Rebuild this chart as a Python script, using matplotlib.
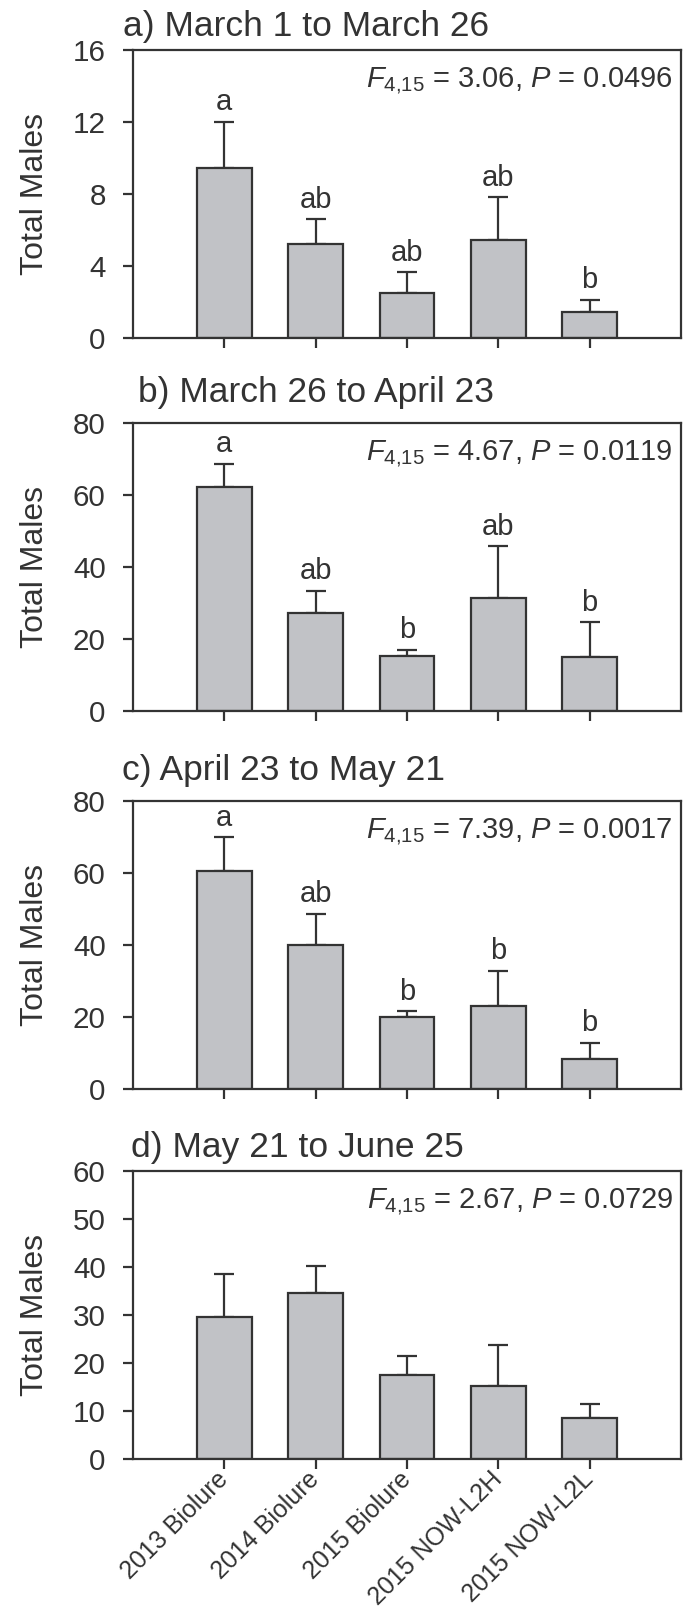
import numpy as np
import matplotlib
matplotlib.use('Agg')
import matplotlib.pyplot as plt

plt.rcParams['font.family'] = ['Liberation Sans', 'DejaVu Sans']
plt.rcParams['mathtext.fontset'] = 'custom'
plt.rcParams['mathtext.rm'] = 'Liberation Sans'
plt.rcParams['mathtext.it'] = 'Liberation Sans:italic'

# treatments
groups = ['2013 Biolure', '2014 Biolure', '2015 Biolure', '2015 NOW-L2H', '2015 NOW-L2L']

# panel titles
titles = ['a) March 1 to March 26', 'b) March 26 to April 23',
          'c) April 23 to May 21', 'd) May 21 to June 25']

# mean total males per panel
means_a = [9.45, 5.22, 2.50, 5.46, 1.45]
means_b = [62.2, 27.3, 15.2, 31.5, 15.0]
means_c = [60.6, 40.0, 19.9, 23.1, 8.3]
means_d = [29.5, 34.5, 17.5, 15.3, 8.5]

# standard errors (upper bar only)
se_a = [2.55, 1.37, 1.14, 2.35, 0.68]
se_b = [6.5, 6.1, 1.8, 14.3, 9.7]
se_c = [9.3, 8.75, 1.65, 9.7, 4.5]
se_d = [9.1, 5.7, 4.0, 8.5, 3.0]

# mean separation letters
letters_a = ['a', 'ab', 'ab', 'ab', 'b']
letters_b = ['a', 'ab', 'b', 'ab', 'b']
letters_c = ['a', 'ab', 'b', 'b', 'b']
letters_d = ['', '', '', '', '']

stats = [r'$\mathit{F}_{\mathrm{4{,}15}}$ = 3.06, $\mathit{P}$ = 0.0496',
         r'$\mathit{F}_{\mathrm{4{,}15}}$ = 4.67, $\mathit{P}$ = 0.0119',
         r'$\mathit{F}_{\mathrm{4{,}15}}$ = 7.39, $\mathit{P}$ = 0.0017',
         r'$\mathit{F}_{\mathrm{4{,}15}}$ = 2.67, $\mathit{P}$ = 0.0729']

ymax = [16, 80, 80, 60]
ystep = [4, 20, 20, 10]

means = [means_a, means_b, means_c, means_d]
ses = [se_a, se_b, se_c, se_d]
letters = [letters_a, letters_b, letters_c, letters_d]

ink = '#333333'
bar_col = '#c1c2c6'

fig = plt.figure(figsize=(6.89, 16.23), dpi=100)
# axes boxes in pixels (top, bottom)
boxes = [(50, 338), (423, 711), (801, 1089), (1171, 1459)]
title_dx = [-0.018, 0.009, -0.02, -0.004]
title_dy = [1.049, 1.073, 1.073, 1.049]
left, right = 133 / 689, 681 / 689
H = 1623

x = np.arange(1, len(groups) + 1)

for i in range(4):
    top, bot = boxes[i]
    ax = fig.add_axes([left, 1 - bot / H, right - left, (bot - top) / H])
    ax.bar(x, means[i], width=0.6, color=bar_col, edgecolor=ink, linewidth=1.6, zorder=2)
    ax.errorbar(x, means[i], yerr=[np.zeros(5), ses[i]], fmt='none', ecolor=ink,
                elinewidth=1.6, capsize=7.5, capthick=1.6, zorder=1)
    for xi, m, s, lab in zip(x, means[i], ses[i], letters[i]):
        if lab:
            ax.annotate(lab, (xi, m + s), xytext=(0, 4), textcoords='offset points',
                        ha='center', va='bottom', fontsize=21, color=ink)
    ax.text(0.985, 0.89, stats[i], transform=ax.transAxes, ha='right', va='center',
            fontsize=21, color=ink)
    ax.set_xlim(0, 6)
    ax.set_ylim(0, ymax[i])
    ax.set_yticks(np.arange(0, ymax[i] + 1, ystep[i]))
    ax.set_xticks(x)
    if i == 3:
        ax.set_xticklabels(groups, rotation=45, ha='right', va='center',
                           rotation_mode='anchor', fontsize=18, color=ink)
    else:
        ax.set_xticklabels([])
    ax.tick_params(axis='both', direction='out', length=7.2, width=1.6, color=ink)
    ax.tick_params(axis='y', labelsize=21.3, labelcolor=ink, pad=12.5)
    ax.tick_params(axis='x', pad=5)
    for sp in ax.spines.values():
        sp.set_linewidth(1.6)
        sp.set_color(ink)
    ax.set_ylabel('Total Males', fontsize=23, color=ink)
    ax.yaxis.set_label_coords(-0.152, 0.5)
    ax.text(title_dx[i], title_dy[i], titles[i], transform=ax.transAxes, ha='left',
            va='baseline', fontsize=25.5, color=ink)

fig.savefig('out.png', dpi=100)
